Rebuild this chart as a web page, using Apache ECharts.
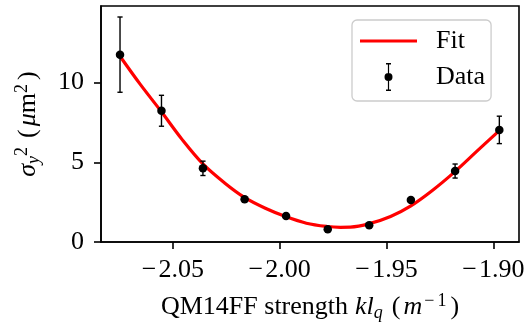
<!DOCTYPE html>
<html><head><meta charset="utf-8">
<script src="https://cdn.jsdelivr.net/npm/echarts@6/dist/echarts.min.js"></script>
<style>html,body{margin:0;padding:0;background:#fff}#c{width:528px;height:323px}</style>
</head><body><div id="c"></div>
<script>
const dataX = [-2.0747, -2.0553, -2.0359, -2.0164, -1.9970, -1.9775, -1.9581, -1.9386, -1.9179, -1.8972];
const dataY = [11.75, 8.23, 4.62, 2.68, 1.63, 0.80, 1.05, 2.63, 4.45, 7.03];
const dataErr = [2.36, 0.97, 0.45, 0.15, 0.10, 0.06, 0.07, 0.10, 0.44, 0.86];
// Fit curve
const fitX = [-2.0747, -2.0653, -2.0554, -2.0456, -2.0358, -2.0259, -2.0165, -2.0067, -1.9969, -1.9875,
              -1.9777, -1.9716, -1.9669, -1.9580, -1.9481, -1.9388, -1.9284, -1.9181, -1.9078, -1.8971];
const fitY = [11.65, 9.90, 8.18, 6.42, 4.88, 3.72, 2.80, 2.12, 1.58, 1.18,
              0.97, 0.92, 0.93, 1.15, 1.60, 2.25, 3.25, 4.40, 5.68, 7.00];
// Tick labels
const xTicks = [-2.05, -2.00, -1.95, -1.90];
const yTicks = [0, 5, 10];

const FONT = 'Liberation Serif';
const FS = 26;
const chart = echarts.init(document.getElementById('c'), null, {renderer: 'canvas'});

const errPath = 'path://M1.5,0H6.5V1.4H1.5Z M3.4,0H4.6V28H3.4Z M1.5,26.6H6.5V28H1.5Z M0,14A4,4 0 1 1 8,14A4,4 0 1 1 0,14Z';

function richSet() {
  return {
    n: {fontFamily: FONT, fontSize: FS, color: '#000', lineHeight: 30},
    i: {fontFamily: FONT, fontSize: FS, fontStyle: 'italic', color: '#000', lineHeight: 30},
    ik: {fontFamily: FONT, fontSize: FS, fontStyle: 'italic', color: '#000', lineHeight: 30, padding: [0, 0, 0, 7]},
    pm: {fontFamily: FONT, fontSize: FS, color: '#000', lineHeight: 30, padding: [0, 3, 0, 9]},
    im: {fontFamily: FONT, fontSize: FS, fontStyle: 'italic', color: '#000', lineHeight: 30, padding: [0, 2, 0, 0]},
    sub: {fontFamily: FONT, fontSize: 18, fontStyle: 'italic', color: '#000', lineHeight: 30, verticalAlign: 'bottom', padding: [14, 0, 0, 0]},
    sup: {fontFamily: FONT, fontSize: 18, color: '#000', lineHeight: 30, verticalAlign: 'top', padding: [0, 0, 12, 0]},
    supm: {fontFamily: FONT, fontSize: 18, color: '#000', lineHeight: 30, verticalAlign: 'top', padding: [0, 3, 12, 0]},
    supe: {fontFamily: FONT, fontSize: 18, color: '#000', lineHeight: 30, verticalAlign: 'top', padding: [0, 4, 12, 0]}
  };
}

chart.setOption({
  animation: false,
  grid: {left: 101, right: 9, top: 6, bottom: 81, containLabel: false, outerBoundsMode: 'none',
         show: true, borderColor: '#000', borderWidth: 1.6, backgroundColor: 'transparent'},
  xAxis: {
    type: 'value', min: -2.0836, max: -1.8880,
    splitLine: {show: false},
    axisLine: {show: true, onZero: false, lineStyle: {color: '#000', width: 1.6}},
    axisTick: {show: true, length: 7, lineStyle: {color: '#000', width: 1.6}, customValues: xTicks},
    axisLabel: {customValues: xTicks, margin: 15, color: '#000', fontFamily: FONT, fontSize: FS,
      formatter: v => '\u2212\u200a' + Math.abs(v).toFixed(2)},
    name: '{n|QM14FF strength}{ik|kl}{sub|q}{pm|(}{im|m}{supm|\u2212}{supe|1}{n|)}',
    nameLocation: 'middle', nameGap: 50,
    nameTextStyle: {rich: richSet()}
  },
  yAxis: {
    type: 'value', min: 0, max: 14.8,
    splitLine: {show: false},
    axisLine: {show: true, onZero: false, lineStyle: {color: '#000', width: 1.6}},
    axisTick: {show: true, length: 7, lineStyle: {color: '#000', width: 1.6}, customValues: yTicks},
    axisLabel: {customValues: yTicks, margin: 17, color: '#000', fontFamily: FONT, fontSize: FS},
    name: '{i|\u03c3}{sub|y}{sup|2}{pm|(}{i|\u03bc}{n|m}{supe|2}{n|)}',
    nameLocation: 'middle', nameGap: 58, nameRotate: 90,
    nameTextStyle: {rich: richSet()}
  },
  legend: {
    orient: 'vertical', left: 352, top: 20,
    itemWidth: 57, itemHeight: 28, itemGap: 8,
    padding: [7, 6, 10, 8],
    backgroundColor: 'rgba(255,255,255,0.85)', borderColor: '#cccccc', borderWidth: 1.3, borderRadius: 5,
    selectedMode: false,
    textStyle: {fontFamily: FONT, fontSize: FS, color: '#000', lineHeight: 28, padding: [0, 0, 0, 14]},
    data: [
      {name: 'Fit', icon: 'path://M0,0H57V3H0Z', itemStyle: {color: '#ff0000'}},
      {name: 'Data', icon: errPath, itemStyle: {color: '#000'}}
    ]
  },
  series: [
    {
      name: 'Fit', type: 'line', z: 2, smooth: 0.35, showSymbol: false,
      data: fitX.map((x, i) => [x, fitY[i]]),
      lineStyle: {color: '#ff0000', width: 3.2}, itemStyle: {color: '#ff0000'}
    },
    {
      name: 'Data', type: 'custom', z: 3,
      data: dataX.map((x, i) => [x, dataY[i], dataErr[i]]),
      renderItem: (params, api) => {
        const x = api.value(0), y = api.value(1), e = api.value(2);
        const t = api.coord([x, y + e]), b = api.coord([x, y - e]);
        const hw = 2.6, st = {stroke: '#000', lineWidth: 1.4};
        return {type: 'group', children: [
          {type: 'line', shape: {x1: t[0], y1: t[1], x2: b[0], y2: b[1]}, style: st},
          {type: 'line', shape: {x1: t[0] - hw, y1: t[1], x2: t[0] + hw, y2: t[1]}, style: st},
          {type: 'line', shape: {x1: b[0] - hw, y1: b[1], x2: b[0] + hw, y2: b[1]}, style: st}
        ]};
      },
      itemStyle: {color: '#000'}
    },
    {
      name: 'Data', type: 'scatter', z: 4, symbolSize: 8.5,
      data: dataX.map((x, i) => [x, dataY[i]]),
      itemStyle: {color: '#000', opacity: 1}
    }
  ]
});
</script></body></html>
